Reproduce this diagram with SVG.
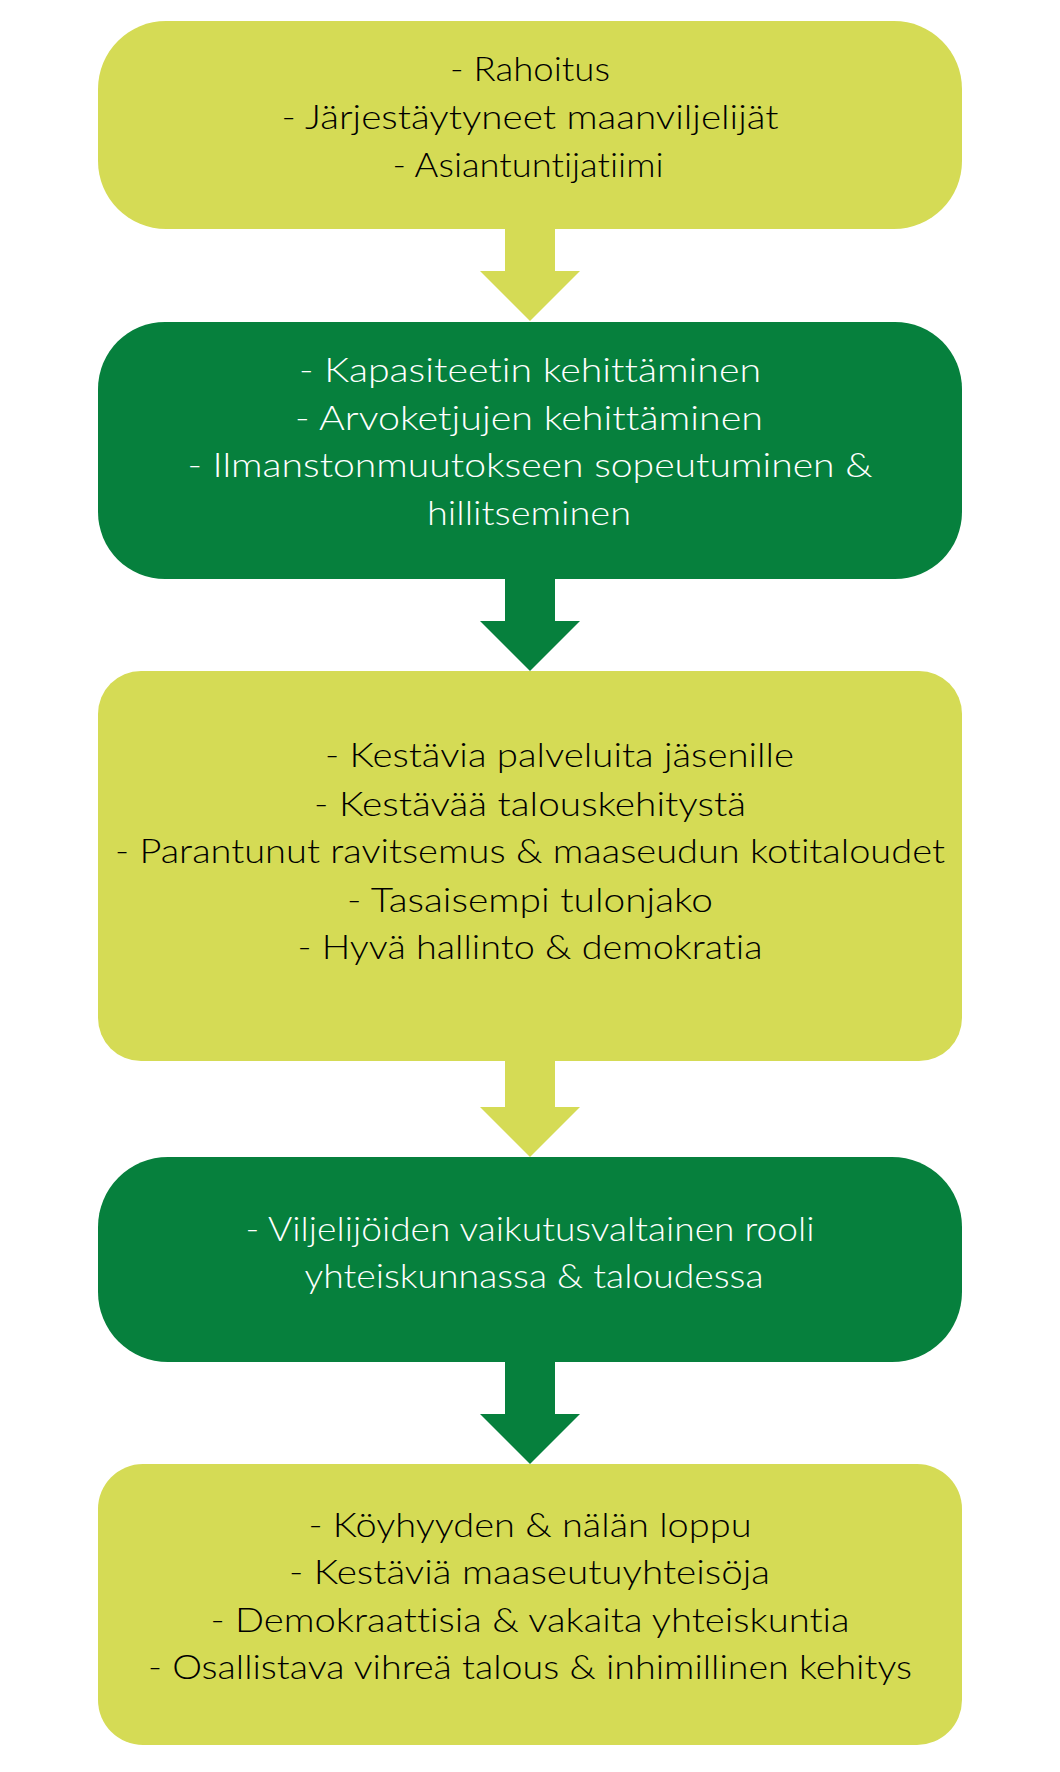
<svg xmlns="http://www.w3.org/2000/svg" width="1060" height="1772" viewBox="0 0 1060 1772">
<style>
.light{fill:#D5DB55}
.dark{fill:#06803D}
text{font-family:Lato,"Noto Sans","Liberation Sans",sans-serif;font-size:33px;font-weight:300;text-anchor:middle;font-variant-ligatures:none;font-feature-settings:"liga" 0,"dlig" 0}
.tl{fill:#000}
.td{fill:#fff}
</style>
<rect width="1060" height="1772" fill="#fff"/>
<g id="connectors">
<polygon class="light" points="505,229 555,229 555,271 580,271 530,321 480,271 505,271"/>
<polygon class="dark" points="505,579 555,579 555,621 580,621 530,671 480,621 505,621"/>
<polygon class="light" points="505,1061 555,1061 555,1107 580,1107 530,1157 480,1107 505,1107"/>
<polygon class="dark" points="505,1362 555,1362 555,1414 580,1414 530,1464 480,1414 505,1414"/>
</g>
<g id="node1">
<rect class="light" x="98" y="21" width="864" height="208" rx="68" ry="68"/>
<text class="tl" x="530" y="81" textLength="160" lengthAdjust="spacingAndGlyphs">- Rahoitus</text>
<text class="tl" x="530" y="129" textLength="497" lengthAdjust="spacingAndGlyphs">- Järjestäytyneet maanviljelijät</text>
<text class="tl" x="528" y="177" textLength="271" lengthAdjust="spacingAndGlyphs">- Asiantuntijatiimi</text>
</g>
<g id="node2">
<rect class="dark" x="98" y="322" width="864" height="257" rx="67" ry="67"/>
<text class="td" x="530" y="382" textLength="462" lengthAdjust="spacingAndGlyphs">- Kapasiteetin kehittäminen</text>
<text class="td" x="529" y="430" textLength="468" lengthAdjust="spacingAndGlyphs">- Arvoketjujen kehittäminen</text>
<text class="td" x="530" y="477" textLength="685" lengthAdjust="spacingAndGlyphs">- Ilmanstonmuutokseen sopeutuminen &amp;</text>
<text class="td" x="529" y="525" textLength="204" lengthAdjust="spacingAndGlyphs">hillitseminen</text>
</g>
<g id="node3">
<rect class="light" x="98" y="671" width="864" height="390" rx="43" ry="43"/>
<text class="tl" x="559.5" y="767" textLength="469" lengthAdjust="spacingAndGlyphs">- Kestävia palveluita jäsenille</text>
<text class="tl" x="530" y="816" textLength="432" lengthAdjust="spacingAndGlyphs">- Kestävää talouskehitystä</text>
<text class="tl" x="530" y="863" textLength="830" lengthAdjust="spacingAndGlyphs">- Parantunut ravitsemus &amp; maaseudun kotitaloudet</text>
<text class="tl" x="530" y="912" textLength="366" lengthAdjust="spacingAndGlyphs">- Tasaisempi tulonjako</text>
<text class="tl" x="530" y="959" textLength="465" lengthAdjust="spacingAndGlyphs">- Hyvä hallinto &amp; demokratia</text>
</g>
<g id="node4">
<rect class="dark" x="98" y="1157" width="864" height="205" rx="70" ry="70"/>
<text class="td" x="530" y="1241" textLength="569" lengthAdjust="spacingAndGlyphs">- Viljelijöiden vaikutusvaltainen rooli</text>
<text class="td" x="534" y="1288" textLength="459" lengthAdjust="spacingAndGlyphs">yhteiskunnassa &amp; taloudessa</text>
</g>
<g id="node5">
<rect class="light" x="98" y="1464" width="864" height="281" rx="45" ry="45"/>
<text class="tl" x="530" y="1537" textLength="443" lengthAdjust="spacingAndGlyphs">- Köyhyyden &amp; nälän loppu</text>
<text class="tl" x="529.5" y="1584" textLength="481" lengthAdjust="spacingAndGlyphs">- Kestäviä maaseutuyhteisöja</text>
<text class="tl" x="530" y="1632" textLength="639" lengthAdjust="spacingAndGlyphs">- Demokraattisia &amp; vakaita yhteiskuntia</text>
<text class="tl" x="530" y="1679" textLength="764" lengthAdjust="spacingAndGlyphs">- Osallistava vihreä talous &amp; inhimillinen kehitys</text>
</g>
</svg>
